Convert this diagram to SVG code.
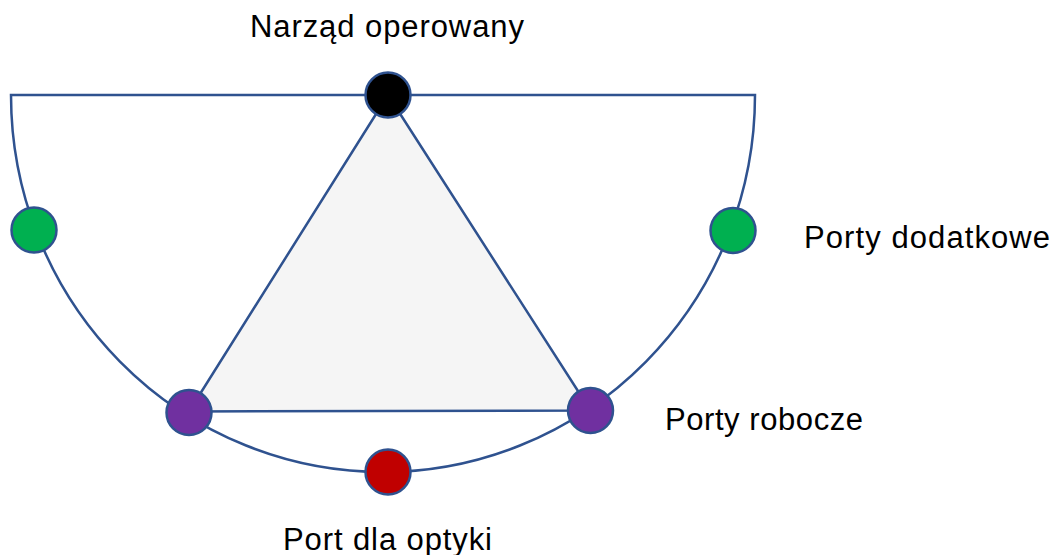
<svg xmlns="http://www.w3.org/2000/svg" width="1054" height="555" viewBox="0 0 1054 555">
<style>
.ln{fill:none;stroke:#2F528F;stroke-width:2.5}
.port{stroke:#2F528F;stroke-width:2.5}
.lbl{font-family:"Liberation Sans","Open Sans",sans-serif;font-size:31px;fill:#000}
</style>
<rect width="1054" height="555" fill="#fff"/>
<g id="connectors">
<path class="ln" d="M11,95 L755,95 A372,377 0 0 1 11,95 Z"/>
<polygon id="triangle" points="388,95 189,411.5 590.5,410.5" fill="#F5F5F5" stroke="#2F528F" stroke-width="2.5" stroke-linejoin="round"/>
</g>
<g id="node-top"><circle class="port" cx="388" cy="95" r="22.5" fill="#000000"/></g>
<g id="node-green-left"><circle class="port" cx="34" cy="230" r="22.5" fill="#00B050"/></g>
<g id="node-green-right"><circle class="port" cx="733" cy="230.5" r="22.5" fill="#00B050"/></g>
<g id="node-purple-left"><circle class="port" cx="189" cy="412.5" r="22.5" fill="#7030A0"/></g>
<g id="node-purple-right"><circle class="port" cx="590.5" cy="410.5" r="22.5" fill="#7030A0"/></g>
<g id="node-red"><circle class="port" cx="388" cy="472" r="22.5" fill="#C00000"/></g>
<g id="labels">
<text class="lbl" x="250" y="37" textLength="274">Narząd operowany</text>
<text class="lbl" x="804" y="248" textLength="246">Porty dodatkowe</text>
<text class="lbl" x="665" y="430" textLength="198">Porty robocze</text>
<text class="lbl" x="283" y="550" textLength="209">Port dla optyki</text>
</g>
</svg>
